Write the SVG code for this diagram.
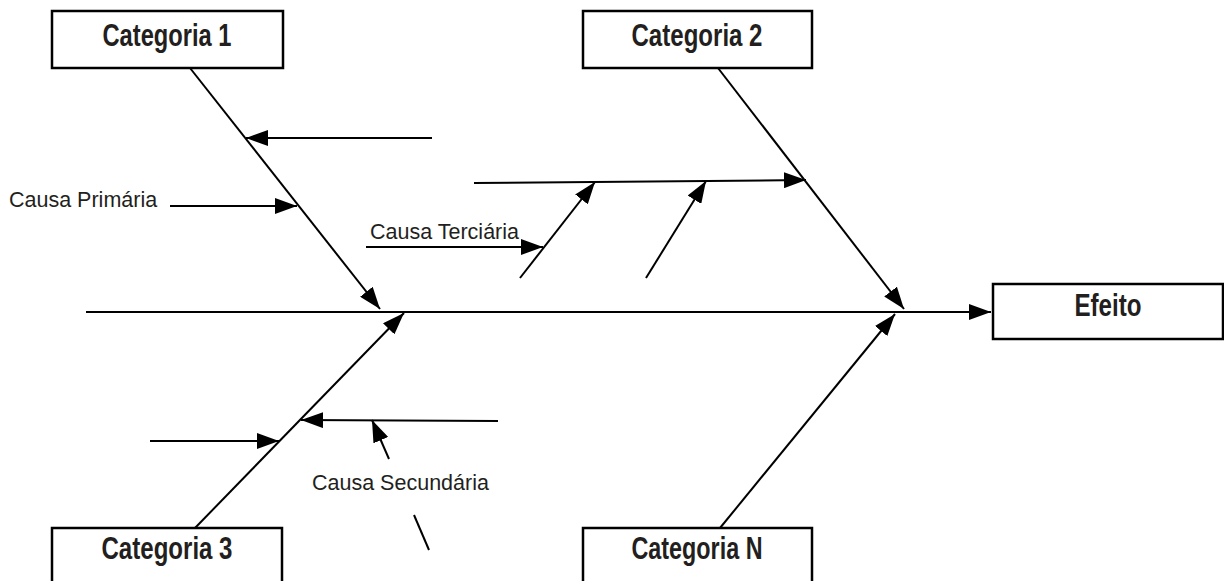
<svg xmlns="http://www.w3.org/2000/svg" width="1224" height="581" viewBox="0 0 1224 581">
  <style>
    .box { fill: #ffffff; stroke: #000000; stroke-width: 2.5; }
    .title { font-family: "Liberation Sans Narrow", "Liberation Sans", sans-serif; font-weight: bold; font-size: 31px; fill: #231f20; text-anchor: middle; }
    .label { font-family: "Liberation Sans", sans-serif; font-size: 21.5px; fill: #231f20; }
    .ln { stroke: #000000; stroke-width: 2; fill: none; }
    .arr { stroke: #000000; stroke-width: 2; fill: none; marker-end: url(#head); }
  </style>
  <defs>
    <marker id="head" markerUnits="userSpaceOnUse" markerWidth="22" markerHeight="16" refX="22" refY="8" orient="auto">
      <path d="M0,0 L22,8 L0,16 Z" fill="#000000"/>
    </marker>
  </defs>
  <rect width="1224" height="581" fill="#ffffff"/>

  <!-- connectors: spine, category bones and causes -->
  <g id="connectors">
    <line class="arr" x1="86" y1="312" x2="991" y2="312"/>
    <line class="arr" x1="190" y1="68" x2="380" y2="309"/>
    <line class="arr" x1="718" y1="68" x2="904" y2="309"/>
    <line class="arr" x1="195" y1="528" x2="404" y2="313"/>
    <line class="arr" x1="720" y1="528" x2="895" y2="314"/>

    <line class="arr" x1="432" y1="138" x2="246" y2="138"/>
    <line class="arr" x1="170" y1="206" x2="297" y2="206"/>
    <line class="arr" x1="366" y1="247" x2="543" y2="247"/>
    <line class="arr" x1="474" y1="183" x2="806" y2="180"/>
    <line class="arr" x1="520" y1="278" x2="595" y2="182"/>
    <line class="arr" x1="646" y1="278" x2="706" y2="181"/>

    <line class="arr" x1="150" y1="441" x2="279" y2="441"/>
    <line class="arr" x1="498" y1="421" x2="301" y2="420"/>
    <line class="arr" x1="389" y1="459" x2="372" y2="420"/>
    <line class="ln" x1="414" y1="515" x2="429" y2="550"/>
  </g>

  <g id="cat1">
    <rect class="box" x="52" y="11" width="231" height="57"/>
    <text class="title" x="167" y="46" textLength="129" lengthAdjust="spacingAndGlyphs">Categoria 1</text>
  </g>
  <g id="cat2">
    <rect class="box" x="583" y="11" width="229" height="57"/>
    <text class="title" x="697" y="46" textLength="131" lengthAdjust="spacingAndGlyphs">Categoria 2</text>
  </g>
  <g id="efeito">
    <rect class="box" x="993" y="284" width="230" height="55"/>
    <text class="title" x="1108" y="316" textLength="67" lengthAdjust="spacingAndGlyphs">Efeito</text>
  </g>
  <g id="cat3">
    <rect class="box" x="52" y="528" width="230" height="60"/>
    <text class="title" x="167" y="559" textLength="131" lengthAdjust="spacingAndGlyphs">Categoria 3</text>
  </g>
  <g id="catN">
    <rect class="box" x="583" y="528" width="229" height="60"/>
    <text class="title" x="697" y="559" textLength="131" lengthAdjust="spacingAndGlyphs">Categoria N</text>
  </g>

  <g id="labels">
    <text class="label" x="9" y="207">Causa Primária</text>
    <text class="label" x="370" y="239">Causa Terciária</text>
    <text class="label" x="312" y="490">Causa Secundária</text>
  </g>
</svg>
